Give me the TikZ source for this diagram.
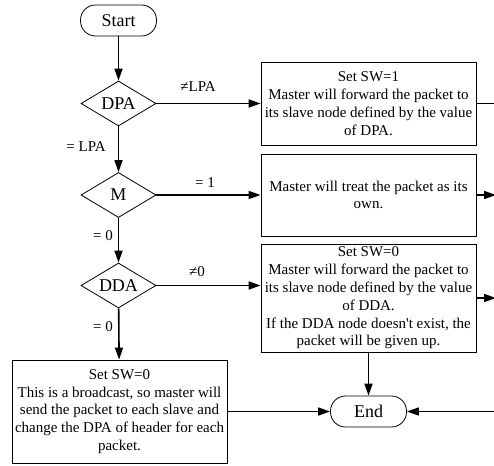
\documentclass[tikz,border=0pt]{standalone}
\usepackage{fontspec}
\setmainfont{Liberation Serif}
\usetikzlibrary{shapes.geometric,arrows.meta}
\begin{document}
\begin{tikzpicture}[x=1pt,y=-1pt,
	every node/.style = {font=\fontsize{15}{17.8}\selectfont},
	term/.style = {draw,line width=0.8pt,rounded corners=15pt,minimum width=76pt,minimum height=31pt,inner sep=0pt,font=\fontsize{18}{20}\selectfont},
	test/.style = {draw,line width=0.8pt,diamond,aspect=1.67,minimum width=75pt,minimum height=45pt,inner sep=0pt,font=\fontsize{18}{20}\selectfont},
	act/.style = {draw,line width=0.8pt,minimum width=215pt,text width=209pt,align=flush center,inner sep=0pt},
	flow/.style = {line width=1.6pt,-{Triangle[length=12pt,width=8pt]}}]
\useasboundingbox (0,0) rectangle (494,465);

\node[term] (s) at (118.5,20.5) {Start};
\node[test] (dpa) at (118.5,103.5) {DPA};
\node[test] (m) at (118.5,195) {M};
\node[test] (dda) at (118.5,285.5) {DDA};

\node[act,minimum height=83pt] (b1) at (368.5,103.5) {Set SW=1\\Master will forward the packet to its slave node defined by the value of DPA.};
\node[act,minimum height=82pt] (b2) at (368.5,195) {Master will treat the packet as its own.};
\node[act,minimum height=108pt] (b3) at (368.5,298) {Set SW=0\\Master will forward the packet to its slave node defined by the value of DDA.\\If the DDA node doesn\textquotesingle t exist, the packet will be given up.};
\node[act,minimum height=103pt] (b4) at (119.5,411.5) {Set SW=0\\This is a broadcast, so master will send the packet to each slave and change the DPA of header for each packet.};
\node[term] (e) at (368.5,411.5) {End};

% branch labels
\node (t1) at (198,87) {≠LPA};
\node (t2) at (86,147) {= LPA};
\node (t3) at (205,183) {= 1};
\node (t4) at (103,236) {= 0};
\node (t5) at (197,272) {≠0};
\node (t6) at (103,327) {= 0};

% lines going off to the right
\coordinate (r1) at (496,103.5);
\coordinate (r2) at (496,195);
\coordinate (r3) at (496,298);
\coordinate (r4) at (500,411.5);

\draw[flow] (s) -- (dpa);
\draw[flow] (dpa) -- (m);
\draw[flow] (m) -- (dda);
\draw[flow] (dda) -- (b4);
\draw[flow] (dpa) -- (b1);
\draw[flow] (m) -- (b2);
\draw[flow] (dda.east) -- (dda.east -| b3.west);
\draw[flow] (b3) -- (e);
\draw[flow] (b4) -- (e);
\draw[line width=1.6pt] (b1.east) -- (r1);
\draw[flow] (b2.east) -- (r2);
\draw[flow] (b3.east) -- (r3);
\draw[flow] (r4) -- (e);
\end{tikzpicture}
\end{document}
